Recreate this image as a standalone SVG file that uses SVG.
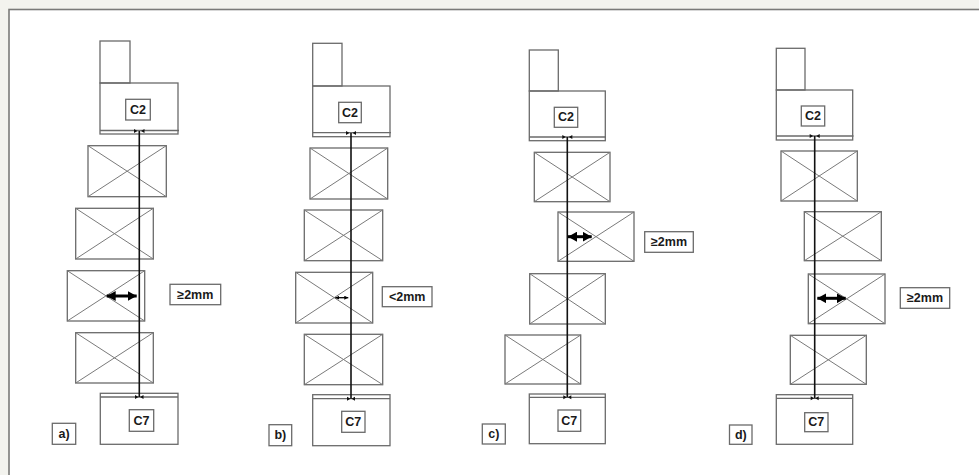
<svg xmlns="http://www.w3.org/2000/svg" width="979" height="475" viewBox="0 0 979 475">
<defs>
<style>
.bg{fill:#f3f3ee}
.frame{fill:#ffffff;stroke:#7a7a78;stroke-width:1.6}
.b{fill:none;stroke:#6a6a6a;stroke-width:1.3}
.x{stroke:#7a7a7a;stroke-width:1}
.lab{fill:#ffffff;stroke:#6a6a6a;stroke-width:1.3}
.t{font-family:"Liberation Sans",Arial,sans-serif;font-weight:bold;font-size:12.5px;fill:#1a1a1a;text-anchor:middle;dominant-baseline:central}
.spine{stroke:#111;stroke-width:1.6;fill:none}
.arr{stroke:#000;stroke-width:3;fill:none;marker-start:url(#ah);marker-end:url(#ah)}
.arrs{stroke:#000;stroke-width:1.3;fill:none;marker-start:url(#ahs);marker-end:url(#ahs)}
.tri{fill:#111}
</style>
<marker id="ah" markerUnits="userSpaceOnUse" markerWidth="9" markerHeight="10" refX="9" refY="5" orient="auto-start-reverse" viewBox="0 0 9 10"><path d="M0,0 L9,5 L0,10 z" fill="#000"/></marker>
<marker id="ahs" markerUnits="userSpaceOnUse" markerWidth="4" markerHeight="4" refX="4" refY="2" orient="auto-start-reverse" viewBox="0 0 4 4"><path d="M0,0 L4,2 L0,4 z" fill="#000"/></marker>
</defs>
<rect class="bg" x="0" y="0" width="979" height="475"/>
<rect class="frame" x="9" y="9.5" width="990" height="490"/>

<!-- Panel a -->
<g id="a-top"><rect class="b" x="100" y="41" width="30" height="42"/></g>
<g id="a-c2"><rect class="b" x="100" y="83" width="78" height="51"/><line class="b" x1="100" y1="130.5" x2="179" y2="130.5"/>
<rect class="lab" x="125.7" y="99.3" width="24.6" height="20.7"/><text class="t" x="138" y="110">C2</text></g>
<g id="a-v1"><rect class="b" x="88" y="145.7" width="78.3" height="51"/><path class="x" d="M88,145.7 L166.3,196.7 M166.3,145.7 L88,196.7"/></g>
<g id="a-v2"><rect class="b" x="75.7" y="208.3" width="77.6" height="50.7"/><path class="x" d="M75.7,208.3 L153.3,259 M153.3,208.3 L75.7,259"/></g>
<g id="a-v3"><rect class="b" x="67.3" y="270.7" width="77.4" height="50.3"/><path class="x" d="M67.3,270.7 L144.7,321 M144.7,270.7 L67.3,321"/></g>
<g id="a-v4"><rect class="b" x="75.7" y="332.7" width="77.6" height="50.3"/><path class="x" d="M75.7,332.7 L153.3,383 M153.3,332.7 L75.7,383"/></g>
<g id="a-c7"><rect class="b" x="100.3" y="393.3" width="77.7" height="51"/><line class="b" x1="100.3" y1="397" x2="178" y2="397"/>
<rect class="lab" x="129.3" y="409.7" width="24.4" height="21.6"/><text class="t" x="141.5" y="420.5">C7</text></g>
<g id="a-mm"><rect class="lab" x="170" y="284.3" width="50.7" height="20.4"/><text class="t" x="195.3" y="294.5">≥2mm</text></g>
<g id="a-label"><rect class="lab" x="52.3" y="423.3" width="23.4" height="21"/><text class="t" x="64" y="433.8">a)</text></g>

<!-- Panel b -->
<g id="b-top"><rect class="b" x="312.7" y="43.3" width="29.3" height="42.7"/></g>
<g id="b-c2"><rect class="b" x="312.7" y="86" width="77.3" height="50.7"/><line class="b" x1="312.7" y1="132.7" x2="391" y2="132.7"/>
<rect class="lab" x="338.7" y="102.3" width="22.6" height="20.4"/><text class="t" x="350" y="112.5">C2</text></g>
<g id="b-v1"><rect class="b" x="310" y="148" width="77.7" height="51"/><path class="x" d="M310,148 L387.7,199 M387.7,148 L310,199"/></g>
<g id="b-v2"><rect class="b" x="304.3" y="210" width="78.4" height="50.7"/><path class="x" d="M304.3,210 L382.7,260.7 M382.7,210 L304.3,260.7"/></g>
<g id="b-v3"><rect class="b" x="295.7" y="272.3" width="77" height="50.7"/><path class="x" d="M295.7,272.3 L372.7,323 M372.7,272.3 L295.7,323"/></g>
<g id="b-v4"><rect class="b" x="304.3" y="334.3" width="78.4" height="50.4"/><path class="x" d="M304.3,334.3 L382.7,384.7 M382.7,334.3 L304.3,384.7"/></g>
<g id="b-c7"><rect class="b" x="312.7" y="394.7" width="77.3" height="51"/><line class="b" x1="312.7" y1="398.7" x2="390" y2="398.7"/>
<rect class="lab" x="341.7" y="411.3" width="23.3" height="21"/><text class="t" x="353.3" y="421.8">C7</text></g>
<g id="b-mm"><rect class="lab" x="382.3" y="286.7" width="49.7" height="20"/><text class="t" x="407.2" y="296.7">&lt;2mm</text></g>
<g id="b-label"><rect class="lab" x="269" y="424.7" width="22.7" height="21"/><text class="t" x="280.3" y="435.2">b)</text></g>

<!-- Panel c -->
<g id="c-top"><rect class="b" x="529.3" y="50" width="29" height="41"/></g>
<g id="c-c2"><rect class="b" x="529.3" y="91" width="76" height="49.7"/><line class="b" x1="529.3" y1="137" x2="606" y2="137"/>
<rect class="lab" x="554.3" y="107.3" width="23.4" height="20"/><text class="t" x="566" y="117.3">C2</text></g>
<g id="c-v1"><rect class="b" x="534.3" y="152.3" width="75.7" height="49.4"/><path class="x" d="M534.3,152.3 L610,201.7 M610,152.3 L534.3,201.7"/></g>
<g id="c-v2"><rect class="b" x="558" y="212" width="76" height="49.3"/><path class="x" d="M558,212 L634,261.3 M634,212 L558,261.3"/></g>
<g id="c-v3"><rect class="b" x="529.7" y="273.7" width="75.6" height="50.3"/><path class="x" d="M529.7,273.7 L605.3,324 M605.3,273.7 L529.7,324"/></g>
<g id="c-v4"><rect class="b" x="505" y="335" width="75.7" height="49"/><path class="x" d="M505,335 L580.7,384 M580.7,335 L505,384"/></g>
<g id="c-c7"><rect class="b" x="529.3" y="394" width="76" height="49.7"/><line class="b" x1="529.3" y1="397.3" x2="605.3" y2="397.3"/>
<rect class="lab" x="558" y="410" width="22.7" height="21.3"/><text class="t" x="569.3" y="420.7">C7</text></g>
<g id="c-mm"><rect class="lab" x="644.7" y="231.7" width="48.6" height="20.6"/><text class="t" x="669" y="242">≥2mm</text></g>
<g id="c-label"><rect class="lab" x="482.3" y="424" width="23" height="20"/><text class="t" x="493.8" y="434">c)</text></g>

<!-- Panel d -->
<g id="d-top"><rect class="b" x="776.3" y="48.3" width="28.7" height="41.7"/></g>
<g id="d-c2"><rect class="b" x="776.3" y="90" width="76.4" height="50"/><line class="b" x1="776.3" y1="136" x2="853.5" y2="136"/>
<rect class="lab" x="801.3" y="106" width="23.4" height="20"/><text class="t" x="813" y="116">C2</text></g>
<g id="d-v1"><rect class="b" x="781" y="151" width="76.3" height="50"/><path class="x" d="M781,151 L857.3,201 M857.3,151 L781,201"/></g>
<g id="d-v2"><rect class="b" x="804.3" y="211.7" width="77" height="49"/><path class="x" d="M804.3,211.7 L881.3,260.7 M881.3,211.7 L804.3,260.7"/></g>
<g id="d-v3"><rect class="b" x="808.3" y="274" width="76.7" height="49.7"/><path class="x" d="M808.3,274 L885,323.7 M885,274 L808.3,323.7"/></g>
<g id="d-v4"><rect class="b" x="790.3" y="335.3" width="76" height="49"/><path class="x" d="M790.3,335.3 L866.3,384.3 M866.3,335.3 L790.3,384.3"/></g>
<g id="d-c7"><rect class="b" x="776.3" y="394.7" width="76.4" height="49.6"/><line class="b" x1="776.3" y1="398.3" x2="852.7" y2="398.3"/>
<rect class="lab" x="804.7" y="412.7" width="23.3" height="19"/><text class="t" x="816.3" y="422.2">C7</text></g>
<g id="d-mm"><rect class="lab" x="900.3" y="287.7" width="49.4" height="20.6"/><text class="t" x="925" y="298">≥2mm</text></g>
<g id="d-label"><rect class="lab" x="729.5" y="425" width="22.5" height="19.3"/><text class="t" x="740.8" y="434.7">d)</text></g>

<!-- Connectors -->
<g id="connectors">
<line class="spine" x1="139.3" y1="131" x2="139.3" y2="397"/>
<polygon class="tri" points="134,129 137.5,131 134,133"/><polygon class="tri" points="144.5,129 141,131 144.5,133"/>
<polygon class="tri" points="135,395 138.5,397 135,399"/><polygon class="tri" points="143.5,395 140,397 143.5,399"/>
<line class="arr" x1="106.7" y1="296" x2="136.7" y2="296"/>

<line class="spine" x1="351" y1="133" x2="351" y2="398.7"/>
<polygon class="tri" points="346,131 349.5,133 346,135"/><polygon class="tri" points="356,131 352.5,133 356,135"/>
<polygon class="tri" points="347,396.7 350.5,398.7 347,400.7"/><polygon class="tri" points="355,396.7 351.5,398.7 355,400.7"/>
<line class="arrs" x1="335.3" y1="297.7" x2="348.3" y2="297.7"/>

<line class="spine" x1="567.3" y1="137" x2="567.3" y2="397.3"/>
<polygon class="tri" points="562.3,135 565.8,137 562.3,139"/><polygon class="tri" points="572.3,135 568.8,137 572.3,139"/>
<polygon class="tri" points="563.3,395.3 566.8,397.3 563.3,399.3"/><polygon class="tri" points="571.3,395.3 567.8,397.3 571.3,399.3"/>
<line class="arr" x1="568" y1="236.7" x2="591.7" y2="236.7"/>

<line class="spine" x1="814.7" y1="136" x2="814.7" y2="398.3"/>
<polygon class="tri" points="809.7,134 813.2,136 809.7,138"/><polygon class="tri" points="819.7,134 816.2,136 819.7,138"/>
<polygon class="tri" points="810.7,396.3 814.2,398.3 810.7,400.3"/><polygon class="tri" points="818.7,396.3 815.2,398.3 818.7,400.3"/>
<line class="arr" x1="817.3" y1="298.3" x2="845.7" y2="298.3"/>
</g>
</svg>
